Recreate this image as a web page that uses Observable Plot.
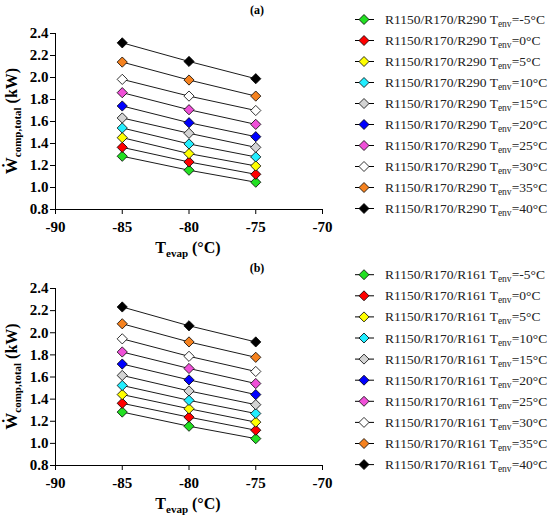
<!DOCTYPE html>
<html>
<head>
<meta charset="utf-8">
<script src="https://cdn.jsdelivr.net/npm/d3@7"></script>
<script src="https://cdn.jsdelivr.net/npm/@observablehq/plot@0.6"></script>
<style>
  body { margin: 0; background: #fff; }
  #wrap { width: 550px; height: 516px; background: #fff; }
  #wrap svg { display: block; }
</style>
</head>
<body>
<div id="wrap"></div>
<script>
// ---- data ----
const tevap = [-85, -80, -75];
const tenv = [-5, 0, 5, 10, 15, 20, 25, 30, 35, 40];
const seriesColors = ["#22e022", "#ff0000", "#ffff00", "#22eeff", "#d4d4d4", "#0000ff", "#f050d8", "#ffffff", "#f5821f", "#000000"];
const xTicks = [-90, -85, -80, -75, -70];
const yTicks = [0.8, 1.0, 1.2, 1.4, 1.6, 1.8, 2.0, 2.2, 2.4];

// panel (a) R1150/R170/R290, rows = Tenv, columns = Tevap -85,-80,-75
const valuesA = [
  [1.284, 1.157, 1.048],
  [1.365, 1.232, 1.120],
  [1.453, 1.308, 1.196],
  [1.541, 1.396, 1.278],
  [1.632, 1.493, 1.365],
  [1.741, 1.589, 1.462],
  [1.862, 1.707, 1.574],
  [1.983, 1.831, 1.700],
  [2.140, 1.977, 1.831],
  [2.315, 2.146, 1.989]
];
// panel (b) R1150/R170/R161
const valuesB = [
  [1.283, 1.155, 1.043],
  [1.362, 1.237, 1.119],
  [1.441, 1.313, 1.192],
  [1.523, 1.389, 1.270],
  [1.614, 1.474, 1.350],
  [1.717, 1.574, 1.441],
  [1.826, 1.677, 1.541],
  [1.945, 1.787, 1.650],
  [2.081, 1.917, 1.778],
  [2.233, 2.063, 1.917]
];
const mixA = "R1150/R170/R290";
const mixB = "R1150/R170/R161";

function makePanel(values, mix, tag, mt, mb, legY0, legStep) {
  const data = [];
  values.forEach((row, i) => row.forEach((v, j) => data.push({env: tenv[i], x: tevap[j], y: v})));
  const H = 258;
  const plot = Plot.plot({
    width: 550,
    height: H,
    marginLeft: 55,
    marginRight: 228,
    marginTop: mt,
    marginBottom: mb,
    style: {fontFamily: "'Liberation Serif', 'Times New Roman', serif", fontSize: "15px", fontWeight: "bold", color: "#000", background: "#fff", overflow: "visible"},
    x: {domain: [-90, -70], ticks: xTicks, tickFormat: d => `${d}`, label: null, tickSize: 5, tickPadding: 7},
    y: {domain: [0.8, 2.4], ticks: yTicks, tickFormat: d => d.toFixed(1), label: null, tickSize: 5, tickPadding: 2},
    color: {domain: tenv, range: seriesColors},
    marks: [
      Plot.ruleX([-90], {stroke: "#000", strokeWidth: 1}),
      Plot.ruleY([0.8], {stroke: "#000", strokeWidth: 1}),
      Plot.line(data, {x: "x", y: "y", z: "env", stroke: "#000", strokeWidth: 0.9}),
      Plot.dot(data, {x: "x", y: "y", fill: "env", stroke: "#000", strokeWidth: 0.8, symbol: "diamond2", r: 4.6})
    ]
  });
  const svg = d3.select(plot);
  svg.selectAll("[aria-label='x-axis tick'] path, [aria-label='y-axis tick'] path").attr("stroke", "#000");
  svg.selectAll("[aria-label$='tick label']").attr("fill", "#000");

  // panel tag
  svg.append("text").attr("x", 257).attr("y", 14).attr("text-anchor", "middle")
    .attr("font-size", 12).attr("font-weight", "bold").text(tag);

  // x title
  const xt = svg.append("text").attr("x", 188).attr("y", H - mb + 44).attr("text-anchor", "middle")
    .attr("font-size", 16).attr("font-weight", "bold");
  xt.append("tspan").text("T");
  xt.append("tspan").attr("font-size", 11).attr("dy", 4).text("evap");
  xt.append("tspan").attr("dy", -4).text(" (°C)");

  // y title
  const cy = (mt + H - mb) / 2;
  const yt = svg.append("text").attr("transform", `translate(17,${cy}) rotate(-90)`).attr("text-anchor", "middle")
    .attr("font-size", 16).attr("font-weight", "bold");
  yt.append("tspan").attr("font-size", 17).text("\u1E86");
  yt.append("tspan").attr("font-size", 11).attr("dy", 4).text("comp,total");
  yt.append("tspan").attr("dy", -4).text(" (kW)");

  // legend
  const leg = svg.append("g").attr("font-weight", "normal").attr("text-anchor", "start");
  tenv.forEach((t, i) => {
    const yy = legY0 + i * legStep;
    const g = leg.append("g").attr("transform", `translate(0,${yy})`);
    g.append("line").attr("x1", 355).attr("x2", 374).attr("y1", 0).attr("y2", 0).attr("stroke", "#000").attr("stroke-width", 1);
    g.append("path").attr("d", "M364,-5L369,0L364,5L359,0Z").attr("fill", seriesColors[i]).attr("stroke", "#000").attr("stroke-width", 0.8);
    const tx = g.append("text").attr("x", 385).attr("y", 4.5).attr("font-size", 13.5)
      .attr("font-weight", "normal").attr("text-anchor", "start").attr("fill", "#222");
    tx.append("tspan").text(`${mix} T`);
    tx.append("tspan").attr("font-size", 9.5).attr("dy", 3).text("env");
    tx.append("tspan").attr("dy", -3).text(`=${t}°C`);
  });
  return plot;
}

const wrap = document.getElementById("wrap");
wrap.appendChild(makePanel(valuesA, mixA, "(a)", 33, 49, 19.5, 21));
wrap.appendChild(makePanel(valuesB, mixB, "(b)", 30, 51, 16.7, 21.1));
</script>
</body>
</html>
